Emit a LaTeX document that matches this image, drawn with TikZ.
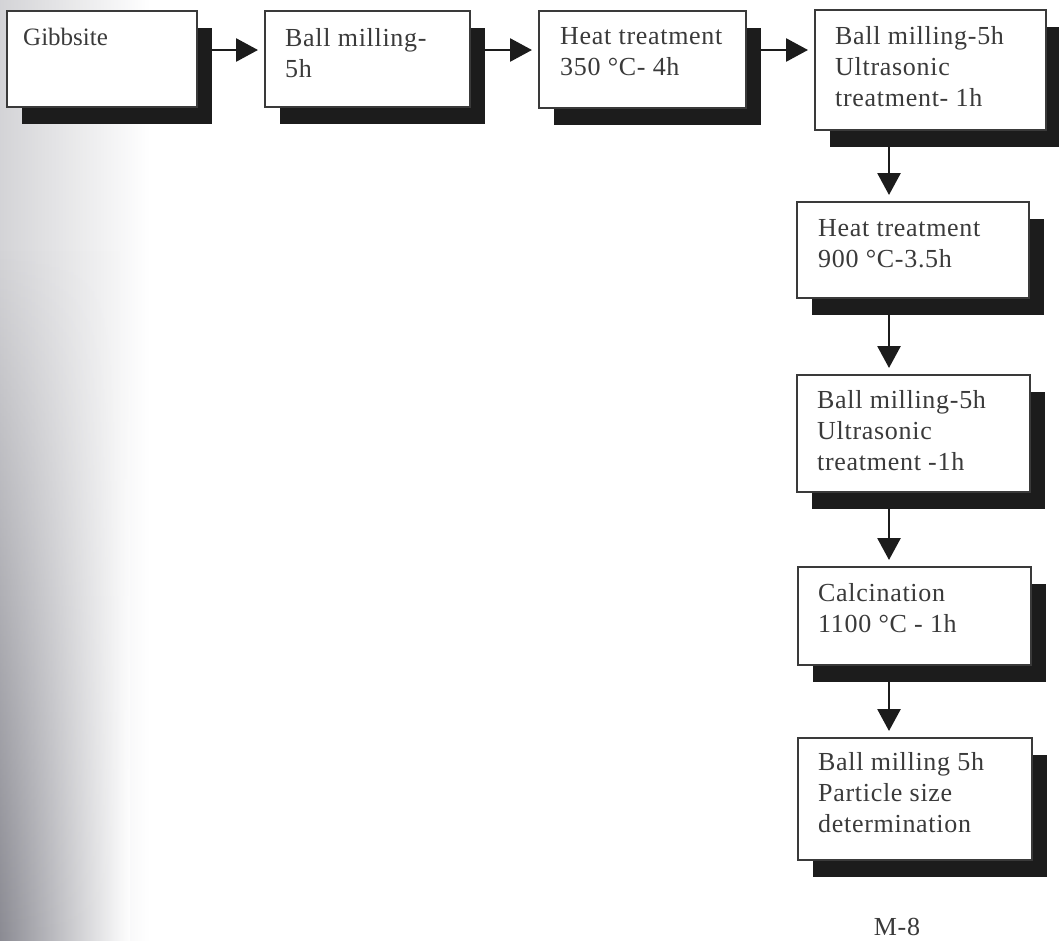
\documentclass[tikz,border=0pt]{standalone}
\usepackage{fontspec}
\setmainfont{Liberation Serif}[LetterSpace=2.7]
\newfontfamily\gibfont{Liberation Serif}
\usetikzlibrary{arrows.meta,shadows,fadings}
\definecolor{inkc}{HTML}{3A3A3A}
\definecolor{shadowc}{HTML}{1C1C1C}
\definecolor{scanc}{HTML}{6E6E78}
\tikzset{
  box/.style={draw=inkc, line width=1.4pt, fill=white, inner sep=0pt, outer sep=0pt,
    anchor=north west,
    drop shadow={shadow xshift=15pt, shadow yshift=-17pt, fill=shadowc, opacity=1}},
  txt/.style={anchor=north west, inner sep=0pt, align=left, text=inkc,
    font=\fontsize{26}{31}\selectfont},
  arr/.style={draw=shadowc, line width=2.8pt, shorten >=7pt,
    -{Triangle[length=22pt,width=23pt]}}
}
\begin{document}
\begin{tikzpicture}[x=1pt,y=-1pt]
\fill[white] (0,0) rectangle (1059,940);
\useasboundingbox (0,0) rectangle (1059,940);
% scan shading on the left edge
\shade[left color=scanc!30, right color=white] (0,0) rectangle (150,940);
\shade[left color=scanc!80, right color=white, path fading=north] (0,250) rectangle (130,940);

% boxes
\node[box, minimum width=190pt, minimum height=96pt]  (b1) at (7,11)   {};
\node[box, minimum width=205pt, minimum height=96pt]  (b2) at (265,11) {};
\node[box, minimum width=207pt, minimum height=97pt]  (b3) at (539,11) {};
\node[box, minimum width=231pt, minimum height=120pt] (b4) at (815,10) {};
\node[box, minimum width=232pt, minimum height=96pt]  (b5) at (797,202) {};
\node[box, minimum width=233pt, minimum height=117pt] (b6) at (797,375) {};
\node[box, minimum width=233pt, minimum height=98pt]  (b7) at (798,567) {};
\node[box, minimum width=234pt, minimum height=122pt] (b8) at (798,738) {};

% texts
\node[txt, font=\gibfont\fontsize{25}{31}\selectfont] (t1) at ([shift={(16pt,-17pt)}]b1.north west) {Gibbsite};
\node[txt] (t2) at ([shift={(20pt,-17pt)}]b2.north west) {Ball milling-\\5h};
\node[txt] (t3) at ([shift={(21pt,-16pt)}]b3.north west) {Heat treatment\\350 °C- 4h};
\node[txt] (t4) at ([shift={(20pt,-16pt)}]b4.north west) {Ball milling-5h\\Ultrasonic\\treatment- 1h};
\node[txt] (t5) at ([shift={(21pt,-17pt)}]b5.north west) {Heat treatment\\900 °C-3.5h};
\node[txt] (t6) at ([shift={(20pt,-15pt)}]b6.north west) {Ball milling-5h\\Ultrasonic\\treatment -1h};
\node[txt] (t7) at ([shift={(20pt,-16pt)}]b7.north west) {Calcination\\1100 °C - 1h};
\node[txt] (t8) at ([shift={(20pt,-14pt)}]b8.north west) {Ball milling 5h\\Particle size\\determination};

\node[text=inkc, inner sep=0pt, font=\fontsize{26}{31}\selectfont] (m8) at (897,927) {M-8};

% horizontal arrows
\draw[arr] ([shift={(15pt,-39pt)}]b1.north east) coordinate (a1) -- (a1 -| b2.west);
\draw[arr] ([shift={(15pt,-39pt)}]b2.north east) coordinate (a2) -- (a2 -| b3.west);
\draw[arr] ([shift={(15pt,-39pt)}]b3.north east) coordinate (a3) -- (a3 -| b4.west);

% vertical arrows
\coordinate (vx) at (889,0);
\draw[arr] ([yshift=-17pt]b4.south -| vx) -- (vx |- b5.north);
\draw[arr] ([yshift=-17pt]b5.south -| vx) -- (vx |- b6.north);
\draw[arr] ([yshift=-17pt]b6.south -| vx) -- (vx |- b7.north);
\draw[arr] ([yshift=-17pt]b7.south -| vx) -- (vx |- b8.north);
\end{tikzpicture}
\end{document}
